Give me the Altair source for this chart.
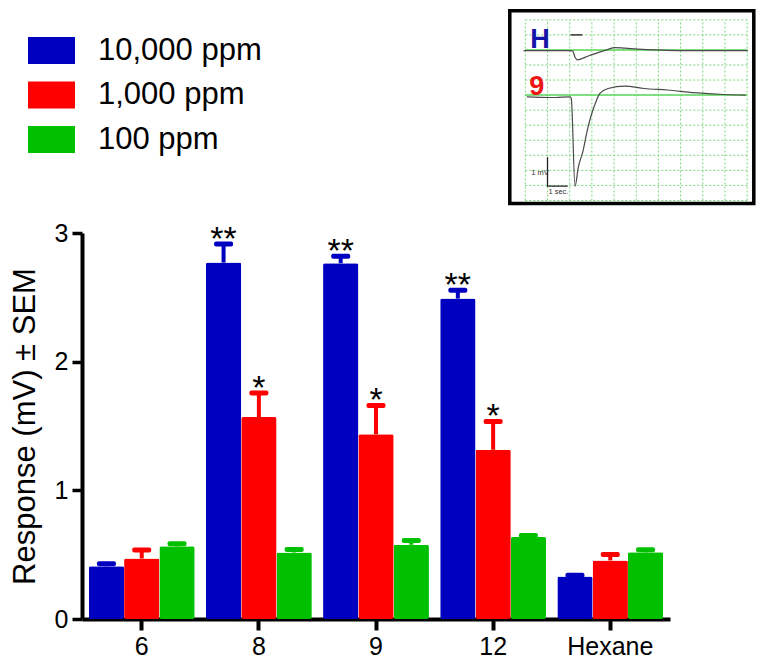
import altair as alt
import pandas as pd

# ---------------- main bar chart data ----------------
compounds = ["6", "8", "9", "12", "Hexane"]
concentrations = ["10,000 ppm", "1,000 ppm", "100 ppm"]
colors = ["#0000C0", "#FF0000", "#00C000"]

resp_10000 = [0.41, 2.77, 2.765, 2.49, 0.33]
sem_10000 = [0.02, 0.145, 0.055, 0.065, 0.01]
resp_1000 = [0.47, 1.57, 1.435, 1.315, 0.455]
sem_1000 = [0.067, 0.186, 0.225, 0.22, 0.047]
resp_100 = [0.565, 0.517, 0.577, 0.637, 0.518]
sem_100 = [0.02, 0.023, 0.033, 0.012, 0.02]
sig_10000 = ["", "**", "**", "**", ""]
sig_1000 = ["", "*", "*", "*", ""]
sig_100 = ["", "", "", "", ""]

y_ticks = [0, 1, 2, 3]

# ---------------- inset (EAG trace) data ----------------
inset_u_domain = [-0.7, 10.3]      # seconds
inset_mv_domain = [-6.1, 0.3]      # mV
grid_u = [0, 1, 2, 3, 4, 5, 6, 7, 8, 9, 10]
grid_mv = [0, -0.5, -1, -1.5, -2, -2.5, -3, -3.5, -4, -4.5, -5, -5.5, -6]
solid_mv = [-1.0, -2.5]

trace_h_u = [-0.08, 0.89, 1.94, 2.13, 2.24, 2.36, 2.54, 2.84, 3.28, 3.73, 4.03, 4.48, 5.07, 5.82, 6.87, 8.36, 10.03]
trace_h_mv = [-1.02, -1.02, -1.02, -1.03, -1.24, -1.33, -1.29, -1.2, -1.09, -0.98, -0.92, -0.94, -0.97, -1.0, -1.02, -1.02, -1.02]
trace_9_u = [0.07, 1.12, 1.34, 2.02, 2.07, 2.24, 2.39, 2.61, 2.76, 2.95, 3.21, 3.36, 3.73, 4.48, 5.37, 6.42, 7.61, 8.96, 9.93]
trace_9_mv = [-2.56, -2.58, -2.58, -2.56, -2.6, -5.53, -4.89, -4.33, -3.78, -3.22, -2.67, -2.44, -2.28, -2.2, -2.28, -2.33, -2.42, -2.48, -2.5]

stim_u = [2.04, 2.57]
stim_mv = -0.5
scalebar_u = [1.0, 1.0, 1.91]
scalebar_mv = [-4.56, -5.52, -5.52]

big_labels = ["H", "9"]
big_label_u = [0.22, 0.18]
big_label_mv = [-0.94, -2.5]
big_label_colors = ["#1414A8", "#EE1515"]
small_labels = ["1 mV", "1 sec."]
small_label_u = [0.27, 1.04]
small_label_mv = [-5.08, -5.72]

FONT = "Liberation Sans"

# layout (pixels)
PLOT_W, PLOT_H = 588, 386
PAD = {"left": 74, "top": 225, "right": 86, "bottom": 39}
ORIGIN_Y = 8 + PAD["top"]

# ---------------- build tables ----------------
rows = []
for conc, col, rs, ss, sg in zip(concentrations, colors,
                                  [resp_10000, resp_1000, resp_100],
                                  [sem_10000, sem_1000, sem_100],
                                  [sig_10000, sig_1000, sig_100]):
    for comp, r, s, g in zip(compounds, rs, ss, sg):
        rows.append({"compound": comp, "conc": conc, "hex": col,
                     "resp": r, "upper": r + s, "sig": g})
df = pd.DataFrame(rows)

x_enc = alt.X("compound:N", sort=compounds, title=None,
              scale=alt.Scale(paddingInner=0.096, paddingOuter=0.058),
              axis=alt.Axis(labelAngle=0, labelFontSize=25, labelFont=FONT,
                            labelColor="black", labelPadding=4,
                            domainWidth=4, domainColor="black",
                            tickWidth=4, tickSize=11, tickColor="black",
                            grid=False))
xo_enc = alt.XOffset("conc:N", sort=concentrations,
                     scale=alt.Scale(paddingInner=0, paddingOuter=0))
y_scale = alt.Scale(domain=[0, 3], nice=False, zero=True)

bars = alt.Chart(df).mark_bar(cornerRadius=2).encode(
    x=x_enc, xOffset=xo_enc,
    y=alt.Y("resp:Q", scale=y_scale, title="Response (mV) ± SEM",
            axis=alt.Axis(values=y_ticks, format="d", labelFontSize=25,
                          labelFont=FONT, labelColor="black", labelPadding=4,
                          domainWidth=4, domainColor="black",
                          tickWidth=3.5, tickSize=10, tickColor="black",
                          grid=False, titleFontSize=31, titleFont=FONT,
                          titleFontWeight="normal", titleColor="black",
                          titlePadding=13)),
    color=alt.Color("conc:N", sort=concentrations,
                    scale=alt.Scale(domain=concentrations, range=colors),
                    legend=alt.Legend(title=None, orient="none",
                                      legendX=-54, legendY=-206, padding=0,
                                      symbolType="M-1,-0.574H1V0.574H-1Z",
                                      symbolSize=2209, symbolStrokeWidth=0,
                                      symbolOpacity=1,
                                      labelFontSize=31, labelFont=FONT,
                                      labelColor="black", labelOffset=23,
                                      labelLimit=400, rowPadding=5.5)),
)

stems = alt.Chart(df).mark_rule(strokeWidth=4).encode(
    x=x_enc, xOffset=xo_enc,
    y=alt.Y("resp:Q", scale=y_scale), y2="upper:Q",
    color=alt.Color("hex:N", scale=None),
)

caps = alt.Chart(df).mark_tick(orient="horizontal", thickness=5, size=19,
                               cornerRadius=2, opacity=1).encode(
    x=x_enc, xOffset=xo_enc,
    y=alt.Y("upper:Q", scale=y_scale),
    color=alt.Color("hex:N", scale=None),
)

stars = alt.Chart(df).mark_text(fontSize=34, font=FONT, baseline="alphabetic",
                                align="center", dy=6, color="black").encode(
    x=x_enc, xOffset=xo_enc,
    y=alt.Y("upper:Q", scale=y_scale),
    text="sig:N",
)

main = alt.layer(bars, stems, caps, stars)

# ---------------- inset ----------------
ux = alt.Scale(domain=inset_u_domain, range=[427.8, 671.8], nice=False, zero=False)
vy = alt.Scale(domain=inset_mv_domain,
               range=[203.5 - ORIGIN_Y, 10.8 - ORIGIN_Y], nice=False, zero=False)

frame_df = pd.DataFrame({"u1": [inset_u_domain[0]], "u2": [inset_u_domain[1]],
                         "v1": [inset_mv_domain[0]], "v2": [inset_mv_domain[1]]})
frame = alt.Chart(frame_df).mark_rect(fill="white", stroke="black",
                                      strokeWidth=3.5).encode(
    x=alt.X("u1:Q", scale=ux, axis=None), x2="u2:Q",
    y=alt.Y("v1:Q", scale=vy, axis=None), y2="v2:Q")

vgrid_df = pd.DataFrame({"u": grid_u, "v1": [grid_mv[-1]] * len(grid_u),
                         "v2": [grid_mv[0]] * len(grid_u)})
vgrid = alt.Chart(vgrid_df).mark_rule(color="#7ED67E", strokeWidth=1,
                                      strokeDash=[2, 2]).encode(
    x=alt.X("u:Q", scale=ux, axis=None),
    y=alt.Y("v1:Q", scale=vy, axis=None), y2="v2:Q")

hgrid_df = pd.DataFrame({"v": grid_mv, "u1": [grid_u[0]] * len(grid_mv),
                         "u2": [grid_u[-1]] * len(grid_mv)})
hgrid = alt.Chart(hgrid_df).mark_rule(color="#7ED67E", strokeWidth=1,
                                      strokeDash=[2, 2]).encode(
    x=alt.X("u1:Q", scale=ux, axis=None), x2="u2:Q",
    y=alt.Y("v:Q", scale=vy, axis=None))

solid_df = pd.DataFrame({"v": solid_mv, "u1": [grid_u[0]] * len(solid_mv),
                         "u2": [grid_u[-1]] * len(solid_mv)})
solid = alt.Chart(solid_df).mark_rule(color="#5FD85F", strokeWidth=1.5).encode(
    x=alt.X("u1:Q", scale=ux, axis=None), x2="u2:Q",
    y=alt.Y("v:Q", scale=vy, axis=None))

trace_df = pd.concat([
    pd.DataFrame({"u": trace_h_u, "v": trace_h_mv, "trace": "H",
                  "i": list(range(len(trace_h_u)))}),
    pd.DataFrame({"u": trace_9_u, "v": trace_9_mv, "trace": "9",
                  "i": list(range(len(trace_9_u)))}),
])
traces = alt.Chart(trace_df).mark_line(color="#4A4A4A", strokeWidth=1.2,
                                       interpolate="monotone").encode(
    x=alt.X("u:Q", scale=ux, axis=None),
    y=alt.Y("v:Q", scale=vy, axis=None),
    detail="trace:N", order="i:Q")

stim_df = pd.DataFrame({"u1": [stim_u[0]], "u2": [stim_u[1]], "v": [stim_mv]})
stim = alt.Chart(stim_df).mark_rule(color="#333333", strokeWidth=1.5).encode(
    x=alt.X("u1:Q", scale=ux, axis=None), x2="u2:Q",
    y=alt.Y("v:Q", scale=vy, axis=None))

sb_df = pd.DataFrame({"u": scalebar_u, "v": scalebar_mv,
                      "i": list(range(len(scalebar_u)))})
scalebar = alt.Chart(sb_df).mark_line(color="#222222", strokeWidth=1.3).encode(
    x=alt.X("u:Q", scale=ux, axis=None),
    y=alt.Y("v:Q", scale=vy, axis=None), order="i:Q")

big_df = pd.DataFrame({"t": big_labels, "u": big_label_u, "v": big_label_mv,
                       "c": big_label_colors})
big_txt = alt.Chart(big_df).mark_text(fontSize=27, fontWeight="bold", font=FONT,
                                      align="left", baseline="alphabetic").encode(
    x=alt.X("u:Q", scale=ux, axis=None),
    y=alt.Y("v:Q", scale=vy, axis=None),
    text="t:N", color=alt.Color("c:N", scale=None))

small_df = pd.DataFrame({"t": small_labels, "u": small_label_u, "v": small_label_mv})
small_txt = alt.Chart(small_df).mark_text(fontSize=7.5, font=FONT, align="left",
                                          baseline="middle", color="#333333").encode(
    x=alt.X("u:Q", scale=ux, axis=None),
    y=alt.Y("v:Q", scale=vy, axis=None),
    text="t:N")

inset = alt.layer(frame, vgrid, hgrid, solid, traces, stim, scalebar,
                  big_txt, small_txt)

chart = alt.layer(main, inset).resolve_scale(
    x="independent", y="independent", color="independent"
).properties(
    width=PLOT_W, height=PLOT_H,
    autosize=alt.AutoSizeParams(type="none"),
    padding=PAD,
).configure_view(stroke=None)

chart.save("out.html", embed_options={"renderer": "svg", "actions": False})
